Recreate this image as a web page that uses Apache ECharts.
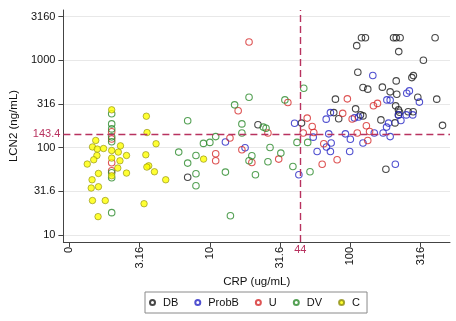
<!DOCTYPE html>
<html>
<head>
<meta charset="utf-8">
<script src="https://cdn.jsdelivr.net/npm/echarts@6/dist/echarts.min.js"></script>
<style>
  html, body { margin: 0; padding: 0; background: #fff; }
  #chart { width: 456px; height: 321px; }
</style>
</head>
<body>
<div id="chart"></div>
<script>
// CRP (ug/mL) vs LCN2 (ng/mL), both on log scales, one group per series
const dbPoints = [
  [120,1810],[128,1810],[203,1810],[212,1810],[226,1810],[401,1810],
  [111,1468],[221,1254],[331,1000],[113,729],[281,667],[274,633],[212,580],
  [123,487],[133,467],[169,492],[192,435],[214,409],[302,378],[412,359],[78.3,359],
  [210,301],[109,278],[220,271],[224,254],[220,237],[258,258],[280,258],
  [118,237],[123,231],[76.2,252],[82.6,214],[165,208],[208,192],[453,180],
  [44.9,191],[179,56.7],[22.0,183],[6.95,45.9]
];
const probBPoints = [
  [144.5,670],[252,420],[263,446],[310,332],[182,352],[192,350],[72.1,252],
  [107,219],[114.5,224],[220,237],[250,237],[278,237],[67.3,212],[187,191],
  [229,205],[40.1,190],[181,172],[92.2,144],[100,125],[148,147],[171,147],
  [192,134],[70.2,144],[54.4,132],[123,113],[67.6,102],[73,113],[72.1,90.5],
  [58,90.5],[98.9,90.5],[209,64.7],[43,49.1],[17.8,99.7],[12.9,116]
];
const uPoints = [
  [19.0,1618],[35.9,328],[15.9,264],[95.2,362],[146,302],[156,321],[88.2,247],
  [103,213],[49.3,218],[25.9,147],[46.2,147],[53.5,175],[54.9,149],[130,178],
  [137,153],[112,147],[133,121],[64.7,111],[80.5,72.8],[63,64.7],[13.9,129],
  [16.9,94.6],[11.0,85.2],[11.0,70.9],[19.9,67.8],[30.9,74.1],
  [2.0,152],[2.0,126],[2.0,67.2],[2.0,54.5]
];
const dvPoints = [
  [46.6,479],[19.0,378],[34.2,352],[15.0,309],[6.95,203],[16.9,187],[24.0,172],
  [25.1,167],[16.9,147],[11.0,134],[10.0,115],[9.0,112],[26.8,100.5],[7.96,81.5],
  [19.9,80.9],[19.0,70.9],[25.9,69.0],[32.0,86.8],[39.0,61.0],[41.7,115],
  [49.7,115],[51.6,53.1],[12.9,52.6],[21.1,49.1],[6.95,66.7],[7.96,50.4],
  [7.96,36.7],[14.0,16.7],[6.0,89.1],
  [2.0,244],[2.0,187],[2.0,164],[2.0,133],[2.0,117],[2.0,51.8],[2.0,45.3],[2.0,18.1]
];
const cPoints = [
  [2.0,271],[3.53,229],[3.57,149],[1.54,121],[4.14,111],[1.46,102],[1.58,96.4],
  [1.75,97.9],[2.0,92.9],[2.23,89.1],[2.31,105],[2.55,81.5],[3.5,83],[1.57,81.5],
  [1.49,72.8],[1.34,65],[2.0,76.1],[2.29,70.9],[3.67,62.1],[3.56,60.1],[2.21,58.5],
  [4.03,53.1],[1.61,50.8],[2.55,51.3],[2.0,47.8],[4.85,43],[1.45,43],[1.61,35.8],
  [1.43,34.6],[1.46,24.9],[1.8,24.9],[3.4,22.9],[1.6,16.3],[9.02,74.1]
];

// axis ticks (half-decade steps) and their printed labels
const xTickValues = [1, 3.1623, 10, 31.623, 100, 316.23];
const xTickLabels = ['0', '3.16', '10', '31.6', '100', '316'];
const yTickValues = [10, 31.623, 100, 316.23, 1000, 3162.3];
const yTickLabels = ['10', '31.6', '100', '316', '1000', '3160'];

// cut-off reference lines
const crpCutoff = 44;
const lcn2Cutoff = 143.4;

const groups = ['DB', 'ProbB', 'U', 'DV', 'C'];
const groupData = [dbPoints, probBPoints, uPoints, dvPoints, cPoints];
const groupColors = ['#1a1a1a', '#2626c4', '#d62a2a', '#2a8a2a', '#8c8c10'];

const refColor = '#b8325f';
const font = '"Liberation Sans", Arial, sans-serif';

function labelFor(values, labels) {
  return function (v) {
    for (let i = 0; i < values.length; i++) {
      if (Math.abs(v - values[i]) / values[i] < 0.01) return labels[i];
    }
    return '';
  };
}

const series = groups.map((name, i) => ({
  name: name,
  type: 'scatter',
  data: groupData[i],
  symbol: 'circle',
  symbolSize: 6.5,
  itemStyle: name === 'C'
    ? { color: '#ffff00', borderColor: '#8c8c10', borderWidth: 0.8 }
    : { color: 'rgba(255,255,255,0)', borderColor: groupColors[i], borderWidth: 1.1 },
  z: 3
}));

series.push({
  name: 'cutoffs',
  type: 'scatter',
  data: [],
  silent: true,
  z: 2,
  markLine: {
    silent: true,
    symbol: 'none',
    animation: false,
    lineStyle: { color: refColor, type: [7, 4], width: 1.4 },
    data: [
      { yAxis: lcn2Cutoff, label: { show: true, position: 'start', formatter: '143.4', color: refColor, fontSize: 11, fontFamily: font, distance: 3, padding: [0, 0, 6, 0] } },
      { xAxis: crpCutoff, label: { show: true, position: 'start', formatter: '44', color: refColor, fontSize: 11, fontFamily: font, distance: 2 } }
    ]
  }
});

const chart = echarts.init(document.getElementById('chart'), null, { renderer: 'canvas' });
chart.setOption({
  animation: false,
  backgroundColor: '#ffffff',
  textStyle: { fontFamily: font },
  grid: { left: 62, right: 6, top: 10, bottom: 79 },
  xAxis: {
    type: 'log',
    logBase: 10,
    min: 0.906,
    max: 512,
    name: 'CRP (ug/mL)',
    nameLocation: 'middle',
    nameGap: 33,
    nameTextStyle: { color: '#111', fontSize: 11.5, fontFamily: font },
    axisLine: { show: true, lineStyle: { color: '#444', width: 1 } },
    axisTick: { show: true, length: 5, lineStyle: { color: '#444' }, customValues: xTickValues },
    axisLabel: {
      rotate: 90, color: '#111', fontSize: 11, fontFamily: font, margin: 5,
      customValues: xTickValues,
      formatter: labelFor(xTickValues, xTickLabels)
    },
    splitLine: { show: false }
  },
  yAxis: {
    type: 'log',
    logBase: 10,
    min: 8.36,
    max: 3750,
    name: 'LCN2 (ng/mL)',
    nameLocation: 'middle',
    nameGap: 38,
    nameTextStyle: { color: '#111', fontSize: 11.5, fontFamily: font },
    axisLine: { show: true, lineStyle: { color: '#444', width: 1 } },
    axisTick: { show: true, length: 5, lineStyle: { color: '#444' }, customValues: yTickValues },
    axisLabel: {
      color: '#111', fontSize: 11, fontFamily: font, margin: 8,
      customValues: yTickValues,
      formatter: labelFor(yTickValues, yTickLabels)
    },
    splitLine: { show: true, lineStyle: { color: '#e8e8e8', width: 1 } }
  },
  legend: {
    data: groups,
    left: 145,
    top: 292,
    orient: 'horizontal',
    icon: 'circle',
    itemWidth: 5,
    itemHeight: 5,
    itemGap: 16,
    padding: [5, 7, 5, 4],
    borderColor: '#8a8a8a',
    borderWidth: 1,
    borderRadius: 0,
    textStyle: { color: '#111', fontSize: 11, fontFamily: font, padding: [0, 0, 0, 3] }
  },
  series: series
});
</script>
</body>
</html>
